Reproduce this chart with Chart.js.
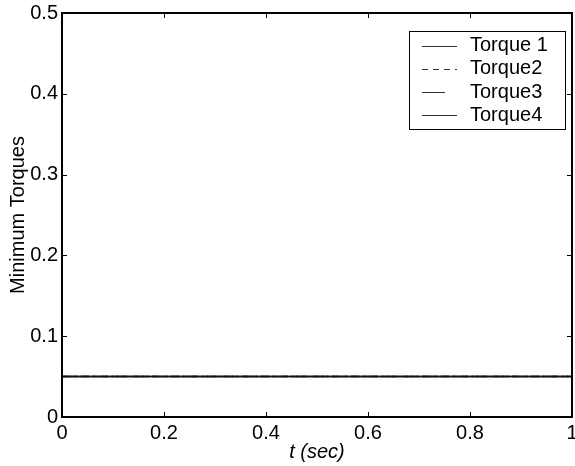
<!DOCTYPE html>
<html>
<head>
<meta charset="utf-8">
<script src="https://cdn.jsdelivr.net/npm/chart.js@4.4.1/dist/chart.umd.min.js"></script>
<style>
  html, body { margin: 0; padding: 0; background: #fff; }
  #wrap { width: 575px; height: 466px; }
</style>
</head>
<body>
<div id="wrap"><canvas id="torqueChart" width="575" height="466"></canvas></div>
<script>
// time samples (sec) and minimum torques
const tValues = [0, 0.25, 0.5, 0.75, 1];
const torque1 = [0.05, 0.05, 0.05, 0.05, 0.05];
const torque2 = [0.05, 0.05, 0.05, 0.05, 0.05];
const torque3 = [0.05, 0.05, 0.05, 0.05, 0.05];
const torque4 = [0.05, 0.05, 0.05, 0.05, 0.05];
const xTicks = [0, 0.2, 0.4, 0.6, 0.8, 1];
const yTicks = [0, 0.1, 0.2, 0.3, 0.4, 0.5];

const FONT = 'Arial, "Liberation Sans", sans-serif';
const FSIZE = 20;

function pts(ys) {
    return tValues.map((t, i) => ({ x: t, y: ys[i] }));
}

// inward ticks + frame, MATLAB style
const boxTicks = {
    id: 'boxTicks',
    afterDatasetsDraw(chart) {
        const { ctx, chartArea: a, scales } = chart;
        ctx.save();
        ctx.strokeStyle = '#000';
        ctx.lineWidth = 1;
        ctx.beginPath();
        xTicks.forEach(v => {
            const px = Math.round(scales.x.getPixelForValue(v)) + 0.5;
            ctx.moveTo(px, a.bottom); ctx.lineTo(px, a.bottom - 5);
            ctx.moveTo(px, a.top); ctx.lineTo(px, a.top + 5);
        });
        yTicks.forEach(v => {
            const py = Math.round(scales.y.getPixelForValue(v)) + 0.5;
            ctx.moveTo(a.left, py); ctx.lineTo(a.left + 5, py);
            ctx.moveTo(a.right, py); ctx.lineTo(a.right - 5, py);
        });
        ctx.stroke();
        ctx.lineWidth = 2;
        ctx.strokeRect(a.left, a.top, a.right - a.left, a.bottom - a.top);
        ctx.restore();
    }
};

// boxed legend in the upper right corner
const boxLegend = {
    id: 'boxLegend',
    afterDraw(chart) {
        const { ctx } = chart;
        const x0 = 409, y0 = 31, w = 156, h = 98;
        ctx.save();
        ctx.fillStyle = '#fff';
        ctx.fillRect(x0, y0, w, h);
        ctx.strokeStyle = '#000';
        ctx.lineWidth = 1;
        ctx.strokeRect(x0 + 0.5, y0 + 0.5, w, h);
        ctx.font = FSIZE + 'px ' + FONT;
        ctx.textBaseline = 'middle';
        chart.data.datasets.forEach((ds, i) => {
            const y = y0 + 14.5 + i * 23.3;
            ctx.strokeStyle = '#333';
            ctx.lineWidth = 1;
            ctx.setLineDash(ds.legendDash || []);
            ctx.beginPath();
            ctx.moveTo(422, Math.round(y) + 0.5);
            ctx.lineTo(457, Math.round(y) + 0.5);
            ctx.stroke();
            ctx.setLineDash([]);
            ctx.fillStyle = '#000';
            ctx.fillText(ds.label, 470, y);
        });
        ctx.restore();
    }
};

const ctx = document.getElementById('torqueChart').getContext('2d');
new Chart(ctx, {
    type: 'line',
    data: {
        datasets: [
            { label: 'Torque 1', data: pts(torque1), borderColor: '#111', borderWidth: 1.5, legendDash: [] },
            { label: 'Torque2', data: pts(torque2), borderColor: '#222', borderWidth: 1.5, borderDash: [6, 4], legendDash: [6, 5] },
            { label: 'Torque3', data: pts(torque3), borderColor: '#222', borderWidth: 1.5, borderDash: [10, 3, 2, 3], legendDash: [23, 40] },
            { label: 'Torque4', data: pts(torque4), borderColor: '#222', borderWidth: 1.5, legendDash: [] }
        ]
    },
    options: {
        responsive: false,
        animation: false,
        layout: { padding: { top: 13, right: 3, left: 0, bottom: 0 } },
        elements: { point: { radius: 0 }, line: { tension: 0 } },
        plugins: {
            legend: { display: false },
            tooltip: { enabled: false }
        },
        scales: {
            x: {
                type: 'linear',
                min: 0,
                max: 1,
                afterFit: s => { s.height = 49; s.paddingLeft = 0; s.paddingRight = 0; },
                afterBuildTicks: s => { s.ticks = xTicks.map(v => ({ value: v })); },
                grid: { display: false, drawTicks: false },
                border: { display: false },
                ticks: {
                    color: '#000', padding: 4, maxRotation: 0,
                    font: { family: FONT, size: FSIZE },
                    callback: v => String(v)
                },
                title: {
                    display: true,
                    text: 't (sec)',
                    color: '#000',
                    padding: { top: 0, bottom: 2 },
                    font: { family: FONT, size: FSIZE, style: 'italic' }
                }
            },
            y: {
                min: 0,
                max: 0.5,
                afterFit: s => { s.width = 62; s.paddingTop = 0; s.paddingBottom = 0; },
                afterBuildTicks: s => { s.ticks = yTicks.map(v => ({ value: v })); },
                grid: { display: false, drawTicks: false },
                border: { display: false },
                ticks: {
                    color: '#000', padding: 4,
                    font: { family: FONT, size: FSIZE },
                    callback: v => String(v)
                },
                title: {
                    display: true,
                    text: 'Minimum Torques',
                    color: '#000',
                    padding: { top: 6, bottom: 0 },
                    font: { family: FONT, size: FSIZE }
                }
            }
        }
    },
    plugins: [boxTicks, boxLegend]
});
</script>
</body>
</html>
